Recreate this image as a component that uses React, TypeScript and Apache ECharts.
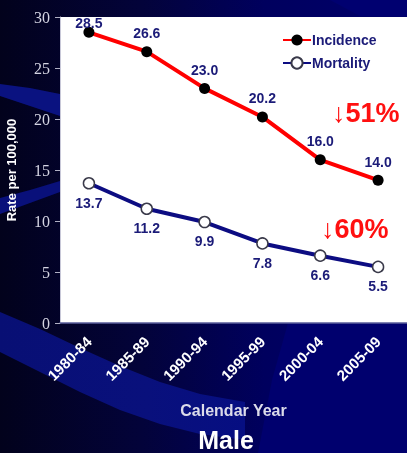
import React, { useEffect, useRef } from "react";
import * as echarts from "echarts";

const periods = ["1980-84", "1985-89", "1990-94", "1995-99", "2000-04", "2005-09"];
const incidence = [28.5, 26.6, 23.0, 20.2, 16.0, 14.0];
const mortality = [13.7, 11.2, 9.9, 7.8, 6.6, 5.5];
const yTicks = { min: 0, max: 30, interval: 5 };
const incidenceDrop = "51%";
const mortalityDrop = "60%";

const W = 407;
const H = 453;
const NAVY_TEXT = "#1b1b78";
const SANS = "'Liberation Sans', Arial, sans-serif";

export default function App() {
  const ref = useRef<HTMLDivElement>(null);

  useEffect(() => {
    if (!ref.current) return;
    const chart = echarts.init(ref.current, null, { renderer: "svg" });

    const labelText = {
      color: NAVY_TEXT,
      fontFamily: SANS,
      fontWeight: "bold" as const,
      fontSize: 14,
      formatter: (p: any) => Number(p.value).toFixed(1),
    };

    const incidenceData = incidence.map((v, i) =>
      i === 0 ? { value: v, label: { distance: -3 } } : v
    );

    const dropText = (pct: string, x: number, y: number) => ({
      type: "text",
      x,
      y,
      z: 20,
      style: {
        text: `{a|↓}{b|${pct}}`,
        verticalAlign: "middle",
        fill: "#ff1010",
        rich: {
          a: { fontFamily: SANS, fontSize: 27, fill: "#ff1010", fontWeight: "normal" },
          b: { fontFamily: SANS, fontSize: 27, fill: "#ff1010", fontWeight: "bold" },
        },
      },
    });

    chart.setOption({
      animation: false,
      graphic: [
        {
          type: "rect",
          z: -20,
          silent: true,
          shape: { x: 0, y: 0, width: W, height: H },
          style: {
            fill: new echarts.graphic.LinearGradient(0, 0, 1, 0, [
              { offset: 0, color: "#02021c" },
              { offset: 0.35, color: "#03033a" },
              { offset: 0.65, color: "#00005e" },
              { offset: 1, color: "#00006c" },
            ]),
          },
        },
        {
          type: "polygon",
          z: -15,
          silent: true,
          shape: {
            points: [[288, 323], [272, 380], [258, 453], [407, 453], [407, 323]],
          },
          style: { fill: "#00006e" },
        },
        {
          type: "polygon",
          z: -15,
          silent: true,
          shape: {
            points: [[0, 84], [30, 88], [60, 94], [60, 116], [30, 106], [0, 96]],
          },
          style: { fill: "#0a1280" },
        },
        {
          type: "polygon",
          z: -15,
          silent: true,
          shape: {
            points: [[0, 198], [30, 190], [60, 181], [60, 192], [30, 203], [0, 214]],
          },
          style: { fill: "#09107a" },
        },
        {
          type: "polygon",
          z: -15,
          silent: true,
          shape: {
            points: [
              [0, 312], [40, 329], [80, 348], [120, 366], [160, 382], [200, 394], [245, 402],
              [245, 440], [200, 434], [160, 424], [120, 410], [80, 392], [40, 372], [0, 352],
            ],
          },
          style: {
            fill: new echarts.graphic.LinearGradient(0, 0, 1, 0, [
              { offset: 0, color: "#080f74" },
              { offset: 0.6, color: "#09107c" },
              { offset: 1, color: "#060e82" },
            ]),
          },
        },
        {
          type: "polygon",
          z: -15,
          silent: true,
          shape: {
            points: [[330, 0], [407, 0], [407, 16], [360, 16]],
          },
          style: { fill: "#000070" },
        },
        dropText(incidenceDrop, 332, 113),
        dropText(mortalityDrop, 321, 229),
        {
          type: "text",
          x: 226,
          y: 440,
          z: 20,
          style: {
            text: "Male",
            fontFamily: SANS,
            fontWeight: "bold",
            fontSize: 25,
            fill: "#ffffff",
            align: "center",
            verticalAlign: "middle",
          },
        },
      ],
      grid: {
        left: 60,
        right: 0,
        top: 17,
        bottom: H - 323,
        show: true,
        backgroundColor: "#ffffff",
        borderWidth: 0,
        containLabel: false,
        outerBoundsMode: "none",
      },
      legend: {
        orient: "vertical",
        left: 282,
        top: 33,
        itemWidth: 28,
        itemHeight: 14,
        itemGap: 9,
        padding: 0,
        data: ["Incidence", "Mortality"],
        textStyle: {
          color: NAVY_TEXT,
          fontFamily: SANS,
          fontWeight: "bold",
          fontSize: 14,
          padding: [0, 0, 0, -4],
        },
      },
      xAxis: {
        type: "category",
        data: periods,
        boundaryGap: true,
        name: "Calendar Year",
        nameLocation: "middle",
        nameGap: 79,
        nameTextStyle: {
          color: "#dcdcea",
          fontFamily: SANS,
          fontWeight: "bold",
          fontSize: 16,
          verticalAlign: "top",
        },
        axisLine: { show: true, lineStyle: { color: "#5a5e9a", width: 1.5 } },
        axisTick: { show: false },
        axisLabel: {
          rotate: 45,
          margin: 16,
          color: "#ffffff",
          fontFamily: SANS,
          fontWeight: "bold",
          fontSize: 15,
          interval: 0,
        },
      },
      yAxis: {
        type: "value",
        min: yTicks.min,
        max: yTicks.max,
        interval: yTicks.interval,
        name: "Rate per 100,000",
        nameLocation: "middle",
        nameGap: 42,
        nameTextStyle: {
          color: "#ffffff",
          fontFamily: SANS,
          fontWeight: "bold",
          fontSize: 13,
        },
        splitLine: { show: false },
        axisLine: { show: true, lineStyle: { color: "#c8c8d8", width: 1 } },
        axisTick: { show: true, length: 5, lineStyle: { color: "#b0b0c4" } },
        axisLabel: {
          margin: 10,
          color: "#d4d4e2",
          fontFamily: "'Liberation Serif', 'Times New Roman', serif",
          fontSize: 16,
        },
      },
      series: [
        {
          name: "Incidence",
          type: "line",
          data: incidenceData,
          symbol: "circle",
          symbolSize: 11,
          z: 3,
          lineStyle: { color: "#ff0000", width: 4 },
          itemStyle: { color: "#000000", borderColor: "#000000", borderWidth: 0 },
          label: { show: true, position: "top", distance: 6, ...labelText },
        },
        {
          name: "Mortality",
          type: "line",
          data: mortality,
          symbol: "circle",
          symbolSize: 11,
          z: 3,
          lineStyle: { color: "#0c0c82", width: 4 },
          itemStyle: { color: "#ffffff", borderColor: "#3a3a4a", borderWidth: 1.5 },
          label: { show: true, position: "bottom", distance: 6, ...labelText },
        },
      ],
    });

    return () => chart.dispose();
  }, []);

  return (
    <div
      ref={ref}
      style={{ position: "fixed", left: 0, top: 0, width: W, height: H }}
    />
  );
}
